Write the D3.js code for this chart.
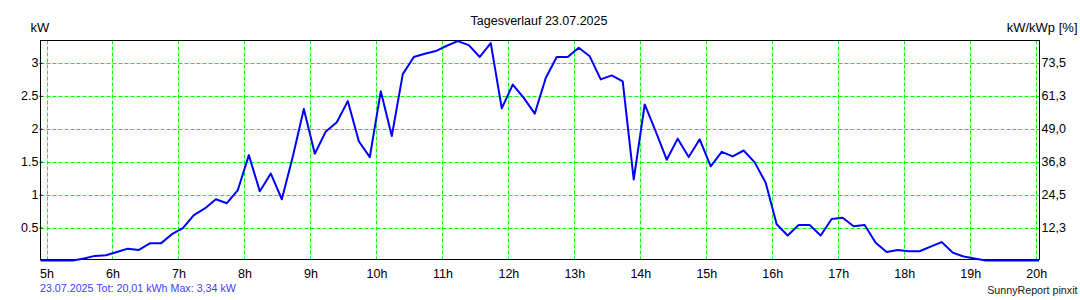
<!DOCTYPE html>
<html>
<head>
<meta charset="utf-8">
<script src="https://cdn.jsdelivr.net/npm/d3@7"></script>
<style>
  body { margin: 0; background: #fff; }
  svg { display: block; font-family: Arial, "Liberation Sans", sans-serif; }
</style>
</head>
<body>
<div class="chart"></div>
<script>
// day curve, one sample every 10 minutes starting 04:54
const firstSample = 4.9;      // hours
const sampleStep = 10 / 60;   // hours
const power = [
  0, 0, 0, 0, 0.03, 0.07, 0.08, 0.13, 0.18, 0.16,
  0.26, 0.26, 0.40, 0.49, 0.69, 0.79, 0.93, 0.87, 1.07, 1.60,
  1.05, 1.32, 0.93, 1.58, 2.30, 1.62, 1.96, 2.10, 2.42, 1.81,
  1.57, 2.57, 1.89, 2.83, 3.09, 3.14, 3.18, 3.26, 3.33, 3.27,
  3.09, 3.30, 2.31, 2.67, 2.47, 2.23, 2.77, 3.09, 3.09, 3.23,
  3.10, 2.75, 2.81, 2.72, 1.23, 2.37, 1.96, 1.53, 1.85, 1.57,
  1.84, 1.43, 1.65, 1.58, 1.67, 1.49, 1.18, 0.55, 0.38, 0.54,
  0.54, 0.38, 0.63, 0.65, 0.52, 0.54, 0.27, 0.13, 0.16, 0.14,
  0.14, 0.21, 0.28, 0.12, 0.06, 0.03, 0, 0, 0, 0,
  0, 0
];
const hours = [5, 6, 7, 8, 9, 10, 11, 12, 13, 14, 15, 16, 17, 18, 19, 20];
const hourLabels = ["5h", "6h", "7h", "8h", "9h", "10h", "11h", "12h", "13h", "14h", "15h", "16h", "17h", "18h", "19h", "20h"];
const kwTicks = [0.5, 1, 1.5, 2, 2.5, 3];
const kwLabels = ["0.5", "1", "1.5", "2", "2.5", "3"];
const pctLabels = ["12,3", "24,5", "36,8", "49,0", "61,3", "73,5"];

const title = "Tagesverlauf 23.07.2025";
const footer = "23.07.2025 Tot: 20,01 kWh Max: 3,34 kW";
const credit = "SunnyReport pinxit";

const widthOfSvg = 1080;
const heightOfSvg = 300;
const plotLeft = 40.5, plotRight = 1039.5, plotTop = 40.5, plotBottom = 259.5;

const times = power.map((d, i) => firstSample + i * sampleStep);

const xScale = d3.scaleLinear()
  .domain([4.909, 20.05])
  .range([plotLeft, plotRight]);

const yScale = d3.scaleLinear()
  .domain([0, 3.34])
  .range([260.5, plotTop]);

const svg = d3.select(".chart")
  .append("svg")
  .attr("width", widthOfSvg)
  .attr("height", heightOfSvg);

svg.append("defs").append("clipPath")
  .attr("id", "plot")
  .append("rect")
  .attr("x", plotLeft)
  .attr("y", 0)
  .attr("width", plotRight - plotLeft - 0.5)
  .attr("height", heightOfSvg);

// grid
const grid = svg.append("g")
  .attr("stroke", "#00ff00")
  .attr("stroke-width", 1)
  .attr("stroke-dasharray", "4,2");

grid.selectAll(".vgrid")
  .data(hours)
  .enter()
  .append("line")
  .attr("x1", d => Math.round(xScale(d)) + 0.5)
  .attr("x2", d => Math.round(xScale(d)) + 0.5)
  .attr("y1", plotTop)
  .attr("y2", plotBottom);

grid.selectAll(".hgrid")
  .data(kwTicks)
  .enter()
  .append("line")
  .attr("x1", plotLeft)
  .attr("x2", plotRight)
  .attr("y1", d => Math.round(yScale(d)) + 0.5)
  .attr("y2", d => Math.round(yScale(d)) + 0.5);

// frame
svg.append("rect")
  .attr("x", plotLeft)
  .attr("y", plotTop)
  .attr("width", plotRight - plotLeft)
  .attr("height", plotBottom - plotTop)
  .attr("fill", "none")
  .attr("stroke", "#000")
  .attr("stroke-width", 1);

// axes labels
const xAxis = d3.axisBottom(xScale)
  .tickValues(hours)
  .tickFormat((d, i) => hourLabels[i])
  .tickSize(0)
  .tickPadding(10);

const yAxis = d3.axisLeft(yScale)
  .tickValues(kwTicks)
  .tickFormat((d, i) => kwLabels[i])
  .tickSize(3)
  .tickPadding(1);

const yAxisRight = d3.axisRight(yScale)
  .tickValues(kwTicks)
  .tickFormat((d, i) => pctLabels[i])
  .tickSize(0)
  .tickPadding(2);

[
  svg.append("g").attr("transform", "translate(0," + plotBottom + ")").call(xAxis),
  svg.append("g").attr("transform", "translate(" + (plotLeft + 2) + ",0)").call(yAxis),
  svg.append("g").attr("transform", "translate(" + plotRight + ",0)").call(yAxisRight)
].forEach(g => {
  g.select(".domain").remove();
  g.selectAll("text")
    .attr("fill", "#000")
    .style("font-family", "Arial, 'Liberation Sans', sans-serif")
    .style("font-size", "12.5px");
  g.selectAll("line").attr("stroke", "#000");
});

// power line
const line = d3.line()
  .x((d, i) => xScale(times[i]))
  .y(d => yScale(d));

svg.append("path")
  .datum(power)
  .attr("d", line)
  .attr("clip-path", "url(#plot)")
  .attr("fill", "none")
  .attr("stroke", "#0000ff")
  .attr("stroke-width", 2)
  .attr("stroke-linejoin", "round");

// texts
svg.append("text")
  .attr("x", 539)
  .attr("y", 24.5)
  .attr("text-anchor", "middle")
  .style("font-size", "12.5px")
  .text(title);

svg.append("text")
  .attr("x", 30.5)
  .attr("y", 32)
  .style("font-size", "13px")
  .text("kW");

svg.append("text")
  .attr("x", 1077.5)
  .attr("y", 32)
  .attr("text-anchor", "end")
  .style("font-size", "13px")
  .text("kW/kWp [%]");

svg.append("text")
  .attr("x", 40)
  .attr("y", 292)
  .attr("fill", "#4040ff")
  .style("font-size", "10.7px")
  .text(footer);

svg.append("text")
  .attr("x", 1077.5)
  .attr("y", 294)
  .attr("text-anchor", "end")
  .attr("fill", "#202020")
  .style("font-size", "10.7px")
  .text(credit);
</script>
</body>
</html>
